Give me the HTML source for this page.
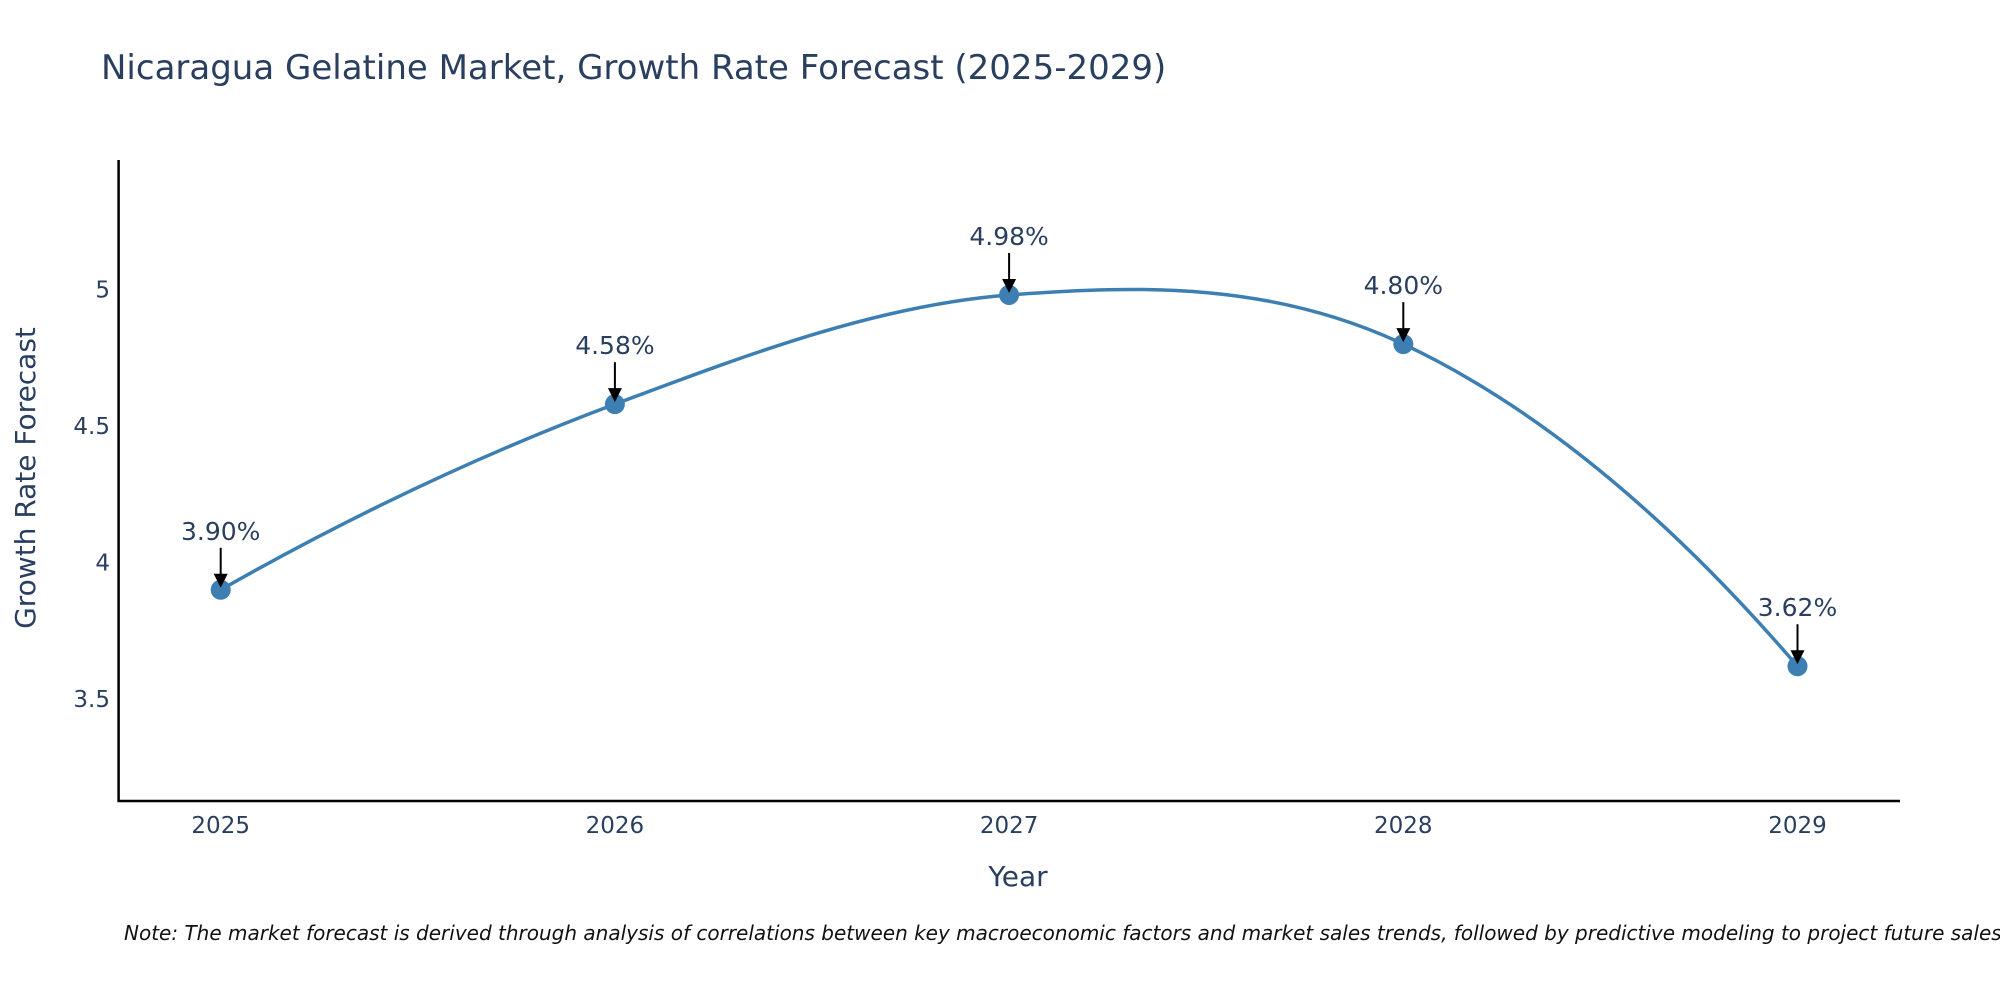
<!DOCTYPE html>
<html><head><meta charset="utf-8">
<style>
html,body{margin:0;padding:0;background:#fff;overflow:hidden;}
svg{display:block;font-family:"DejaVu Sans","Liberation Sans",sans-serif;}
</style></head>
<body>
<svg id="chart" width="2000" height="1000" viewBox="0 0 2000 1000">
<text x="101" y="79" font-size="34" fill="#2a3f5f">Nicaragua Gelatine Market, Growth Rate Forecast (2025-2029)</text>
<g id="yticks"></g>
<g id="xticks"></g>
<line x1="118.6" y1="160" x2="118.6" y2="802" stroke="#000" stroke-width="2.5"/>
<line x1="117.5" y1="801" x2="1900" y2="801" stroke="#000" stroke-width="2.5"/>
<g id="series"></g>
<g id="annots"></g>
<text x="1018" y="886" font-size="28" fill="#2a3f5f" text-anchor="middle">Year</text>
<text transform="translate(35,478) rotate(-90)" font-size="28" fill="#2a3f5f" text-anchor="middle">Growth Rate Forecast</text>
<text x="124" y="940" font-size="20" font-style="italic" fill="#111">Note: The market forecast is derived through analysis of correlations between key macroeconomic factors and market sales trends, followed by predictive modeling to project future sales.</text>
</svg>
<script>
const years = [2025, 2026, 2027, 2028, 2029];
const growth = [3.90, 4.58, 4.98, 4.80, 3.62];
const labels = ["3.90%", "4.58%", "4.98%", "4.80%", "3.62%"];
const yTicks = [3.5, 4, 4.5, 5];

const NS = "http://www.w3.org/2000/svg";
function xs(v){ return 220.7 + (v - 2025) * 394.2; }
function ys(v){ return 289.5 + (5 - v) * 273; }
function mk(tag, attrs, parent){
  const e = document.createElementNS(NS, tag);
  for (const k in attrs) e.setAttribute(k, attrs[k]);
  parent.appendChild(e);
  return e;
}
const yt = document.getElementById('yticks');
yTicks.forEach(t => {
  const e = mk('text', {x: 110, y: ys(t) + 8, 'font-size': 23, fill: '#2a3f5f', 'text-anchor': 'end'}, yt);
  
  
  e.textContent = String(t);
});
const xt = document.getElementById('xticks');
years.forEach(t => {
  const e = mk('text', {x: xs(t), y: 833, 'font-size': 23, fill: '#2a3f5f', 'text-anchor': 'middle'}, xt);
  
  
  e.textContent = String(t);
});
// Catmull-Rom style spline in data space
const n = years.length;
const m = [];
for (let i = 1; i < n - 1; i++) m[i] = (growth[i+1] - growth[i-1]) / (years[i+1] - years[i-1]);
const P = (x, y) => xs(x).toFixed(2) + ',' + ys(y).toFixed(2);
let d = 'M' + P(years[0], growth[0]);
{ const h = years[1] - years[0];
  d += 'Q' + P(years[1] - h/2, growth[1] - m[1]*h/2) + ' ' + P(years[1], growth[1]); }
for (let i = 1; i < n - 2; i++) {
  const h = years[i+1] - years[i];
  d += 'C' + P(years[i] + h/3, growth[i] + m[i]*h/3) + ' ' + P(years[i+1] - h/3, growth[i+1] - m[i+1]*h/3) + ' ' + P(years[i+1], growth[i+1]);
}
{ const i = n - 2, h = years[i+1] - years[i];
  d += 'Q' + P(years[i] + h/2, growth[i] + m[i]*h/2) + ' ' + P(years[i+1], growth[i+1]); }
const ser = document.getElementById('series');
const line = mk('path', {d: d, fill: 'none', stroke: '#3d7fb2', 'stroke-width': 3.5}, ser);


const pts = years.map((y, i) => [xs(y), ys(growth[i])]);
pts.forEach(p => {
  const c = mk('circle', {cx: p[0], cy: p[1], r: 10, fill: '#3d7fb2'}, ser);
  
  
});
const an = document.getElementById('annots');
pts.forEach((p, i) => {
  const l = mk('line', {x1: p[0], y1: p[1] - 42, x2: p[0], y2: p[1] - 14, stroke: '#000', 'stroke-width': 2}, an);
  
  
  const h = mk('polygon', {points: (p[0]-7)+','+(p[1]-16)+' '+(p[0]+7)+','+(p[1]-16)+' '+p[0]+','+(p[1]-2), fill: '#000'}, an);
  
  
  const t = mk('text', {x: p[0], y: p[1] - 50, 'font-size': 25, fill: '#2a3f5f', 'text-anchor': 'middle'}, an);
  
  
  t.textContent = labels[i];
});
</script>
</body></html>
